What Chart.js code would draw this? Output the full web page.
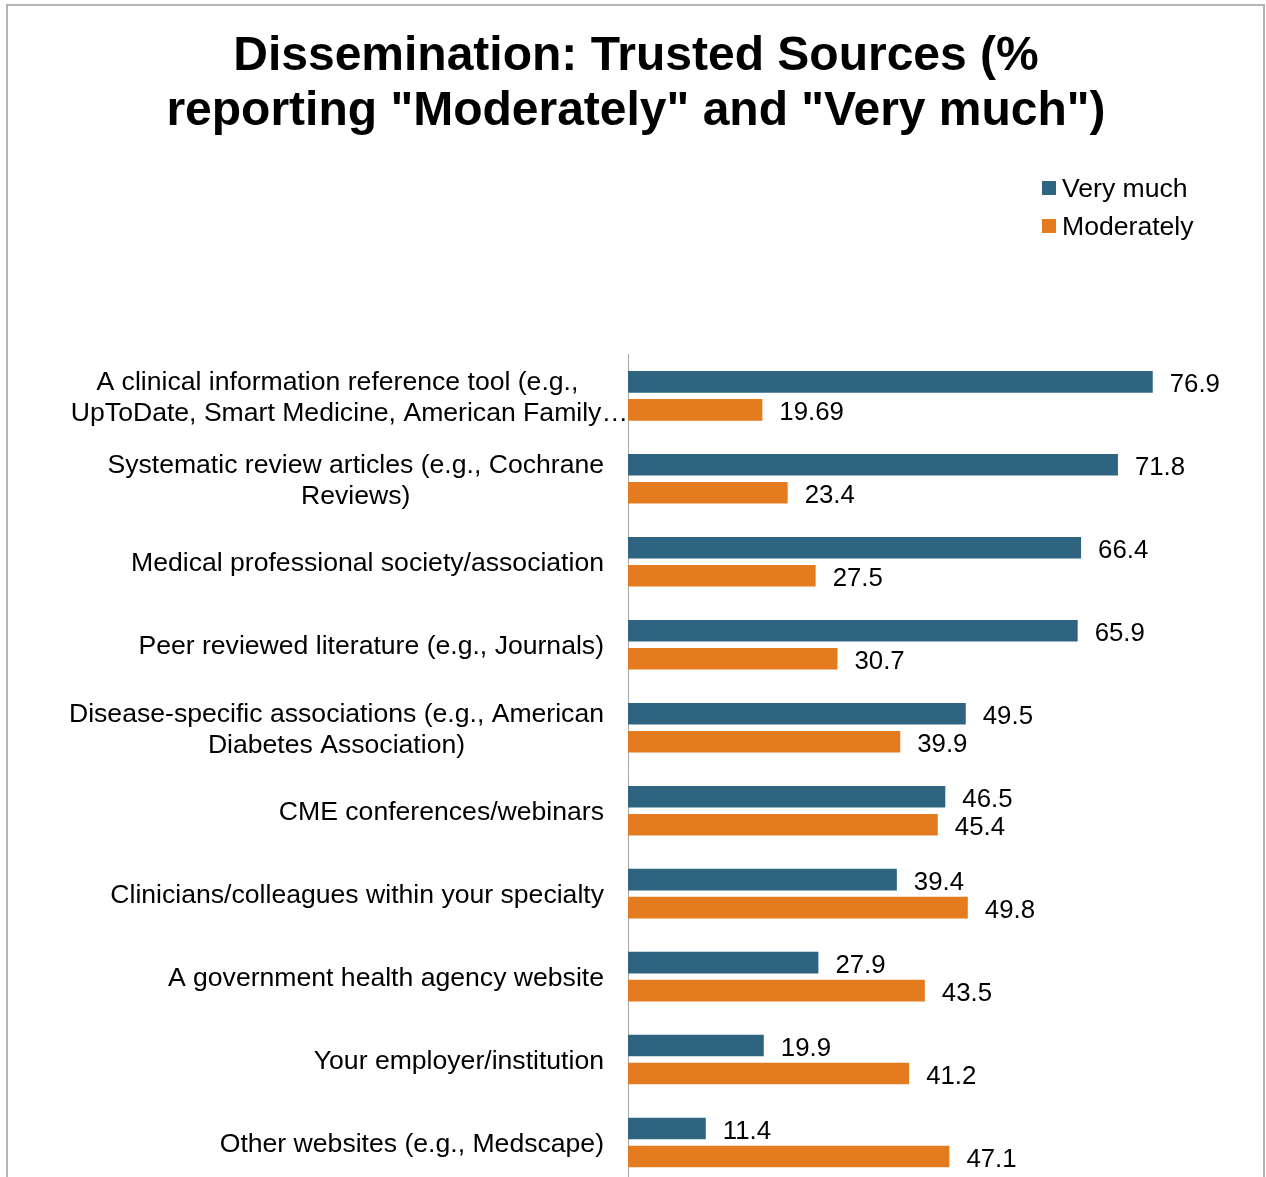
<!DOCTYPE html>
<html>
<head>
<meta charset="utf-8">
<script src="https://cdn.jsdelivr.net/npm/chart.js@4/dist/chart.umd.min.js"></script>
<style>
  html, body { margin: 0; padding: 0; background: #fff; overflow: hidden; }
  #frame { position: absolute; left: 6px; top: 4px; width: 1259px; height: 1300px; border: 2px solid #b4b4b4; box-sizing: border-box; }
  #c { position: absolute; left: 0; top: 0; }
</style>
</head>
<body>
<div id="frame"></div>
<canvas id="c" width="1266" height="1200"></canvas>
<script>
const titleLines = ['Dissemination: Trusted Sources (%', 'reporting "Moderately" and "Very much")'];
const categories = [
  ['A clinical information reference tool (e.g.,', 'UpToDate, Smart Medicine, American Family\u2026'],
  ['Systematic review articles (e.g., Cochrane', 'Reviews)'],
  ['Medical professional society/association'],
  ['Peer reviewed literature (e.g., Journals)'],
  ['Disease-specific associations (e.g., American', 'Diabetes Association)'],
  ['CME conferences/webinars'],
  ['Clinicians/colleagues within your specialty'],
  ['A government health agency website'],
  ['Your employer/institution'],
  ['Other websites (e.g., Medscape)']
];
const veryMuch   = [76.9, 71.8, 66.4, 65.9, 49.5, 46.5, 39.4, 27.9, 19.9, 11.4];
const moderately = [19.69, 23.4, 27.5, 30.7, 39.9, 45.4, 49.8, 43.5, 41.2, 47.1];
const seriesNames = ['Very much', 'Moderately'];
const seriesColors = ['#2E6480', '#E47C1F'];

const FONT = "'Liberation Sans', Arial, sans-serif";

const labelPlugin = {
  id: 'customLabels',
  afterDatasetsDraw(chart) {
    const ctx = chart.ctx;
    const yScale = chart.scales.y;
    const axisX = chart.chartArea.left;
    ctx.save();
    // category labels
    ctx.font = '26.6px ' + FONT;
    ctx.fillStyle = '#000';
    ctx.textBaseline = 'middle';
    const lineH = 31;
    categories.forEach((lines, i) => {
      const cy = yScale.getPixelForValue(i) + 2;
      const widths = lines.map(l => ctx.measureText(l).width);
      let center;
      const ellIdx = lines.findIndex(l => l.endsWith('\u2026'));
      if (ellIdx >= 0) {
        center = axisX - widths[ellIdx] / 2 - 12;
      } else {
        const maxW = Math.max(...widths);
        center = axisX - 24 - maxW / 2;
      }
      lines.forEach((l, k) => {
        const y = cy - (lines.length - 1) * lineH / 2 + k * lineH;
        ctx.textAlign = 'center';
        let x = center;
        if (k === ellIdx) x = axisX - widths[k] / 2;
        ctx.fillText(l, x, y);
      });
    });
    // data labels
    ctx.font = '25.8px ' + FONT;
    ctx.textAlign = 'left';
    chart.data.datasets.forEach((ds, di) => {
      const meta = chart.getDatasetMeta(di);
      meta.data.forEach((bar, i) => {
        ctx.fillText(String(ds.data[i]), bar.x + 17, bar.y + 3);
      });
    });
    // legend
    ctx.font = '26.6px ' + FONT;
    seriesNames.forEach((name, k) => {
      const y = 188 + k * 38;
      ctx.fillStyle = seriesColors[k];
      ctx.fillRect(1042, y - 7, 14, 14);
      ctx.fillStyle = '#000';
      ctx.fillText(name, 1062, y + 2);
    });
    ctx.restore();
  }
};

new Chart(document.getElementById('c'), {
  type: 'bar',
  data: {
    labels: categories,
    datasets: [
      { label: seriesNames[0], data: veryMuch, backgroundColor: seriesColors[0] },
      { label: seriesNames[1], data: moderately, backgroundColor: seriesColors[1] }
    ]
  },
  options: {
    indexAxis: 'y',
    responsive: false,
    animation: false,
    devicePixelRatio: 1,
    layout: { padding: { left: 6, right: 0, top: 0, bottom: 16 } },
    datasets: { bar: { categoryPercentage: 0.675, barPercentage: 0.77 } },
    scales: {
      x: { display: false, min: 0, max: 93.5 },
      y: {
        display: true,
        ticks: { display: false },
        grid: { display: false, drawTicks: false },
        border: { display: true, color: '#a6a6a6', width: 1 },
        afterFit(scale) { scale.width = 622; }
      }
    },
    plugins: {
      legend: { display: false },
      tooltip: { enabled: false },
      title: {
        display: true,
        text: titleLines,
        color: '#000',
        font: { family: FONT, size: 48, weight: 'bold', lineHeight: 1.15 },
        padding: { top: 29, bottom: 215 }
      }
    }
  },
  plugins: [labelPlugin]
});
</script>
</body>
</html>
